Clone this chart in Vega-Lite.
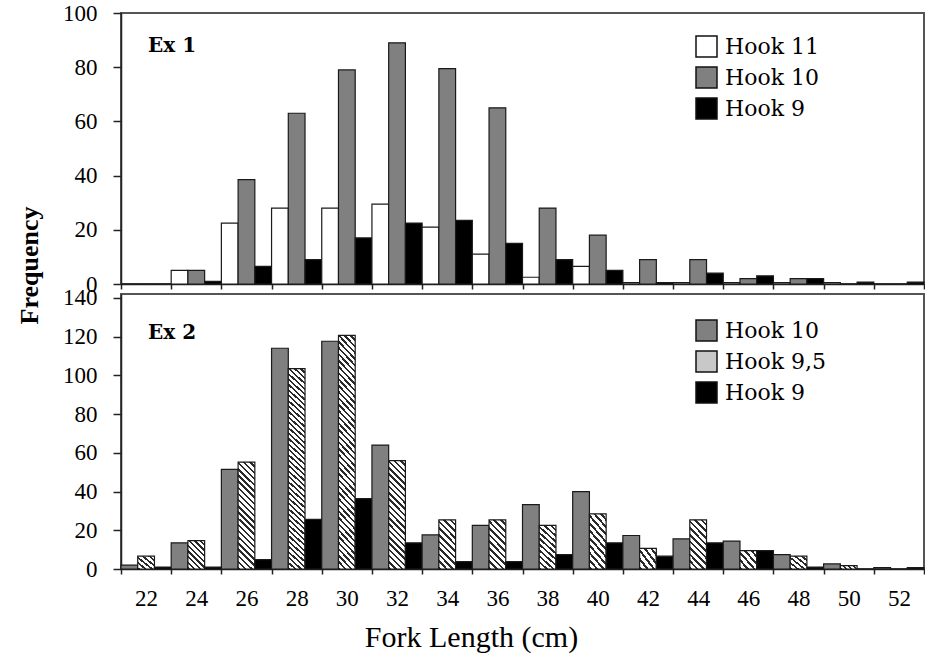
{
 "$schema": "https://vega.github.io/schema/vega-lite/v6.json",
 "padding": {"left": 15, "top": 1, "right": 5, "bottom": 5},
 "bounds": "flush",
 "spacing": 10,
 "datasets": {
  "ex1": [
   {"len":"22","hook":"Hook 11","freq":0},{"len":"22","hook":"Hook 10","freq":0},{"len":"22","hook":"Hook 9","freq":0},
   {"len":"24","hook":"Hook 11","freq":5},{"len":"24","hook":"Hook 10","freq":5},{"len":"24","hook":"Hook 9","freq":1},
   {"len":"26","hook":"Hook 11","freq":22.5},{"len":"26","hook":"Hook 10","freq":38.5},{"len":"26","hook":"Hook 9","freq":6.5},
   {"len":"28","hook":"Hook 11","freq":28},{"len":"28","hook":"Hook 10","freq":63},{"len":"28","hook":"Hook 9","freq":9},
   {"len":"30","hook":"Hook 11","freq":28},{"len":"30","hook":"Hook 10","freq":79},{"len":"30","hook":"Hook 9","freq":17},
   {"len":"32","hook":"Hook 11","freq":29.5},{"len":"32","hook":"Hook 10","freq":89},{"len":"32","hook":"Hook 9","freq":22.5},
   {"len":"34","hook":"Hook 11","freq":21},{"len":"34","hook":"Hook 10","freq":79.5},{"len":"34","hook":"Hook 9","freq":23.5},
   {"len":"36","hook":"Hook 11","freq":11},{"len":"36","hook":"Hook 10","freq":65},{"len":"36","hook":"Hook 9","freq":15},
   {"len":"38","hook":"Hook 11","freq":2.5},{"len":"38","hook":"Hook 10","freq":28},{"len":"38","hook":"Hook 9","freq":9},
   {"len":"40","hook":"Hook 11","freq":6.5},{"len":"40","hook":"Hook 10","freq":18},{"len":"40","hook":"Hook 9","freq":5},
   {"len":"42","hook":"Hook 11","freq":0.5},{"len":"42","hook":"Hook 10","freq":9},{"len":"42","hook":"Hook 9","freq":0.5},
   {"len":"44","hook":"Hook 11","freq":0.5},{"len":"44","hook":"Hook 10","freq":9},{"len":"44","hook":"Hook 9","freq":4},
   {"len":"46","hook":"Hook 11","freq":0.5},{"len":"46","hook":"Hook 10","freq":2},{"len":"46","hook":"Hook 9","freq":3},
   {"len":"48","hook":"Hook 11","freq":0.5},{"len":"48","hook":"Hook 10","freq":2},{"len":"48","hook":"Hook 9","freq":2},
   {"len":"50","hook":"Hook 11","freq":0.5},{"len":"50","hook":"Hook 10","freq":0},{"len":"50","hook":"Hook 9","freq":0.7},
   {"len":"52","hook":"Hook 11","freq":0},{"len":"52","hook":"Hook 10","freq":0},{"len":"52","hook":"Hook 9","freq":0.7}
  ],
  "ex2": [
   {"len":"22","hook":"Hook 10","freq":2},{"len":"22","hook":"Hook 9,5","freq":6.6},{"len":"22","hook":"Hook 9","freq":1},
   {"len":"24","hook":"Hook 10","freq":13.5},{"len":"24","hook":"Hook 9,5","freq":14.7},{"len":"24","hook":"Hook 9","freq":1},
   {"len":"26","hook":"Hook 10","freq":51.4},{"len":"26","hook":"Hook 9,5","freq":55.2},{"len":"26","hook":"Hook 9","freq":4.8},
   {"len":"28","hook":"Hook 10","freq":114},{"len":"28","hook":"Hook 9,5","freq":103.5},{"len":"28","hook":"Hook 9","freq":25.6},
   {"len":"30","hook":"Hook 10","freq":117.6},{"len":"30","hook":"Hook 9,5","freq":120.6},{"len":"30","hook":"Hook 9","freq":36.3},
   {"len":"32","hook":"Hook 10","freq":64},{"len":"32","hook":"Hook 9,5","freq":56},{"len":"32","hook":"Hook 9","freq":13.5},
   {"len":"34","hook":"Hook 10","freq":17.6},{"len":"34","hook":"Hook 9,5","freq":25.4},{"len":"34","hook":"Hook 9","freq":3.8},
   {"len":"36","hook":"Hook 10","freq":22.5},{"len":"36","hook":"Hook 9,5","freq":25.4},{"len":"36","hook":"Hook 9","freq":3.8},
   {"len":"38","hook":"Hook 10","freq":33.2},{"len":"38","hook":"Hook 9,5","freq":22.5},{"len":"38","hook":"Hook 9","freq":7.4},
   {"len":"40","hook":"Hook 10","freq":40},{"len":"40","hook":"Hook 9,5","freq":28.5},{"len":"40","hook":"Hook 9","freq":13.5},
   {"len":"42","hook":"Hook 10","freq":17.3},{"len":"42","hook":"Hook 9,5","freq":10.7},{"len":"42","hook":"Hook 9","freq":6.6},
   {"len":"44","hook":"Hook 10","freq":15.6},{"len":"44","hook":"Hook 9,5","freq":25.4},{"len":"44","hook":"Hook 9","freq":13.5},
   {"len":"46","hook":"Hook 10","freq":14.4},{"len":"46","hook":"Hook 9,5","freq":9.5},{"len":"46","hook":"Hook 9","freq":9.5},
   {"len":"48","hook":"Hook 10","freq":7.4},{"len":"48","hook":"Hook 9,5","freq":6.6},{"len":"48","hook":"Hook 9","freq":1},
   {"len":"50","hook":"Hook 10","freq":2.6},{"len":"50","hook":"Hook 9,5","freq":1.7},{"len":"50","hook":"Hook 9","freq":0},
   {"len":"52","hook":"Hook 10","freq":0.7},{"len":"52","hook":"Hook 9,5","freq":0},{"len":"52","hook":"Hook 9","freq":0.7}
  ]
 },
 "vconcat": [
  {
   "width": 803, "height": 271,
   "data": {"name": "ex1"},
   "title": {"text": "Ex 1", "anchor": "start", "frame": "group", "orient": "top", "offset": -32, "dx": 27, "dy": 32, "baseline": "middle", "font": "DejaVu Serif", "fontSize": 20, "fontWeight": "bold", "color": "#000"},
   "mark": {"type": "bar", "stroke": "#1a1a1a", "strokeWidth": 1.2},
   "encoding": {
    "x": {"field": "len", "type": "nominal",
          "scale": {"domain": ["22","24","26","28","30","32","34","36","38","40","42","44","46","48","50","52"], "paddingInner": 0, "paddingOuter": 0},
          "axis": {"labels": false, "title": null, "tickBand": "extent", "tickSize": 5}},
    "xOffset": {"field": "hook", "type": "nominal", "sort": ["Hook 11","Hook 10","Hook 9"],
                "scale": {"domain": ["Hook 11","Hook 10","Hook 9"], "paddingInner": 0, "paddingOuter": 0}},
    "y": {"field": "freq", "type": "quantitative", "stack": null,
          "scale": {"domain": [0, 100], "nice": false},
          "axis": {"values": [0,20,40,60,80,100], "labelOverlap": false, "labelPadding": 16, "title": "Frequency", "titleX": -92, "titleY": 252, "titleAngle": 270, "titleBaseline": "middle", "titleAlign": "center", "titleFontSize": 26, "titleFontWeight": "bold"}},
    "fill": {"field": "hook", "type": "nominal",
             "scale": {"domain": ["Hook 11","Hook 10","Hook 9"], "range": ["#ffffff","#808080","#000000"]},
             "legend": {"orient": "none", "legendX": 574, "legendY": 22, "title": null}}
   }
  },
  {
   "width": 803, "height": 275,
   "data": {"name": "ex2"},
   "title": {"text": "Ex 2", "anchor": "start", "frame": "group", "orient": "top", "offset": -36, "dx": 27, "dy": 30, "baseline": "middle", "font": "DejaVu Serif", "fontSize": 20, "fontWeight": "bold", "color": "#000"},
   "mark": {"type": "bar", "stroke": "#1a1a1a", "strokeWidth": 1.2},
   "encoding": {
    "x": {"field": "len", "type": "nominal",
          "scale": {"domain": ["22","24","26","28","30","32","34","36","38","40","42","44","46","48","50","52"], "paddingInner": 0, "paddingOuter": 0},
          "axis": {"title": "Fork Length (cm)", "labelAngle": 0, "labelPadding": 13, "tickBand": "extent", "tickSize": 5, "titleFontSize": 30, "titleFontWeight": "normal", "titleX": 350, "titleY": 68, "titleBaseline": "middle", "titleAlign": "center"}},
    "xOffset": {"field": "hook", "type": "nominal", "sort": ["Hook 10","Hook 9,5","Hook 9"],
                "scale": {"domain": ["Hook 10","Hook 9,5","Hook 9"], "paddingInner": 0, "paddingOuter": 0}},
    "y": {"field": "freq", "type": "quantitative", "stack": null,
          "scale": {"domain": [0, 142], "nice": false},
          "axis": {"values": [0,20,40,60,80,100,120,140], "labelOverlap": false, "labelPadding": 16, "title": null}},
    "fill": {"field": "hook", "type": "nominal",
             "scale": {"domain": ["Hook 10","Hook 9,5","Hook 9"], "range": ["#808080","#c8c8c8","#000000"]},
             "legend": {"orient": "none", "legendX": 574, "legendY": 25, "title": null},
             "condition": [
              {"test": "datum.hook === 'Hook 9,5' && datum.freq >= 80", "value": {"gradient":"linear","x1":0,"y1":1,"x2":0.08255,"y2":-0.0707,"stops":[
                {"offset":0,"color":"#2a2a2a"},{"offset":0.01,"color":"#2a2a2a"},{"offset":0.01,"color":"#fff"},{"offset":0.025,"color":"#fff"},
                {"offset":0.025,"color":"#2a2a2a"},{"offset":0.035,"color":"#2a2a2a"},{"offset":0.035,"color":"#fff"},{"offset":0.05,"color":"#fff"},
                {"offset":0.05,"color":"#2a2a2a"},{"offset":0.06,"color":"#2a2a2a"},{"offset":0.06,"color":"#fff"},{"offset":0.075,"color":"#fff"},
                {"offset":0.075,"color":"#2a2a2a"},{"offset":0.085,"color":"#2a2a2a"},{"offset":0.085,"color":"#fff"},{"offset":0.1,"color":"#fff"},
                {"offset":0.1,"color":"#2a2a2a"},{"offset":0.11,"color":"#2a2a2a"},{"offset":0.11,"color":"#fff"},{"offset":0.125,"color":"#fff"},
                {"offset":0.125,"color":"#2a2a2a"},{"offset":0.135,"color":"#2a2a2a"},{"offset":0.135,"color":"#fff"},{"offset":0.15,"color":"#fff"},
                {"offset":0.15,"color":"#2a2a2a"},{"offset":0.16,"color":"#2a2a2a"},{"offset":0.16,"color":"#fff"},{"offset":0.175,"color":"#fff"},
                {"offset":0.175,"color":"#2a2a2a"},{"offset":0.185,"color":"#2a2a2a"},{"offset":0.185,"color":"#fff"},{"offset":0.2,"color":"#fff"},
                {"offset":0.2,"color":"#2a2a2a"},{"offset":0.21,"color":"#2a2a2a"},{"offset":0.21,"color":"#fff"},{"offset":0.225,"color":"#fff"},
                {"offset":0.225,"color":"#2a2a2a"},{"offset":0.235,"color":"#2a2a2a"},{"offset":0.235,"color":"#fff"},{"offset":0.25,"color":"#fff"},
                {"offset":0.25,"color":"#2a2a2a"},{"offset":0.26,"color":"#2a2a2a"},{"offset":0.26,"color":"#fff"},{"offset":0.275,"color":"#fff"},
                {"offset":0.275,"color":"#2a2a2a"},{"offset":0.285,"color":"#2a2a2a"},{"offset":0.285,"color":"#fff"},{"offset":0.3,"color":"#fff"},
                {"offset":0.3,"color":"#2a2a2a"},{"offset":0.31,"color":"#2a2a2a"},{"offset":0.31,"color":"#fff"},{"offset":0.325,"color":"#fff"},
                {"offset":0.325,"color":"#2a2a2a"},{"offset":0.335,"color":"#2a2a2a"},{"offset":0.335,"color":"#fff"},{"offset":0.35,"color":"#fff"},
                {"offset":0.35,"color":"#2a2a2a"},{"offset":0.36,"color":"#2a2a2a"},{"offset":0.36,"color":"#fff"},{"offset":0.375,"color":"#fff"},
                {"offset":0.375,"color":"#2a2a2a"},{"offset":0.385,"color":"#2a2a2a"},{"offset":0.385,"color":"#fff"},{"offset":0.4,"color":"#fff"},
                {"offset":0.4,"color":"#2a2a2a"},{"offset":0.41,"color":"#2a2a2a"},{"offset":0.41,"color":"#fff"},{"offset":0.425,"color":"#fff"},
                {"offset":0.425,"color":"#2a2a2a"},{"offset":0.435,"color":"#2a2a2a"},{"offset":0.435,"color":"#fff"},{"offset":0.45,"color":"#fff"},
                {"offset":0.45,"color":"#2a2a2a"},{"offset":0.46,"color":"#2a2a2a"},{"offset":0.46,"color":"#fff"},{"offset":0.475,"color":"#fff"},
                {"offset":0.475,"color":"#2a2a2a"},{"offset":0.485,"color":"#2a2a2a"},{"offset":0.485,"color":"#fff"},{"offset":0.5,"color":"#fff"},
                {"offset":0.5,"color":"#2a2a2a"},{"offset":0.51,"color":"#2a2a2a"},{"offset":0.51,"color":"#fff"},{"offset":0.525,"color":"#fff"},
                {"offset":0.525,"color":"#2a2a2a"},{"offset":0.535,"color":"#2a2a2a"},{"offset":0.535,"color":"#fff"},{"offset":0.55,"color":"#fff"},
                {"offset":0.55,"color":"#2a2a2a"},{"offset":0.56,"color":"#2a2a2a"},{"offset":0.56,"color":"#fff"},{"offset":0.575,"color":"#fff"},
                {"offset":0.575,"color":"#2a2a2a"},{"offset":0.585,"color":"#2a2a2a"},{"offset":0.585,"color":"#fff"},{"offset":0.6,"color":"#fff"},
                {"offset":0.6,"color":"#2a2a2a"},{"offset":0.61,"color":"#2a2a2a"},{"offset":0.61,"color":"#fff"},{"offset":0.625,"color":"#fff"},
                {"offset":0.625,"color":"#2a2a2a"},{"offset":0.635,"color":"#2a2a2a"},{"offset":0.635,"color":"#fff"},{"offset":0.65,"color":"#fff"},
                {"offset":0.65,"color":"#2a2a2a"},{"offset":0.66,"color":"#2a2a2a"},{"offset":0.66,"color":"#fff"},{"offset":0.675,"color":"#fff"},
                {"offset":0.675,"color":"#2a2a2a"},{"offset":0.685,"color":"#2a2a2a"},{"offset":0.685,"color":"#fff"},{"offset":0.7,"color":"#fff"},
                {"offset":0.7,"color":"#2a2a2a"},{"offset":0.71,"color":"#2a2a2a"},{"offset":0.71,"color":"#fff"},{"offset":0.725,"color":"#fff"},
                {"offset":0.725,"color":"#2a2a2a"},{"offset":0.735,"color":"#2a2a2a"},{"offset":0.735,"color":"#fff"},{"offset":0.75,"color":"#fff"},
                {"offset":0.75,"color":"#2a2a2a"},{"offset":0.76,"color":"#2a2a2a"},{"offset":0.76,"color":"#fff"},{"offset":0.775,"color":"#fff"},
                {"offset":0.775,"color":"#2a2a2a"},{"offset":0.785,"color":"#2a2a2a"},{"offset":0.785,"color":"#fff"},{"offset":0.8,"color":"#fff"},
                {"offset":0.8,"color":"#2a2a2a"},{"offset":0.81,"color":"#2a2a2a"},{"offset":0.81,"color":"#fff"},{"offset":0.825,"color":"#fff"},
                {"offset":0.825,"color":"#2a2a2a"},{"offset":0.835,"color":"#2a2a2a"},{"offset":0.835,"color":"#fff"},{"offset":0.85,"color":"#fff"},
                {"offset":0.85,"color":"#2a2a2a"},{"offset":0.86,"color":"#2a2a2a"},{"offset":0.86,"color":"#fff"},{"offset":0.875,"color":"#fff"},
                {"offset":0.875,"color":"#2a2a2a"},{"offset":0.885,"color":"#2a2a2a"},{"offset":0.885,"color":"#fff"},{"offset":0.9,"color":"#fff"},
                {"offset":0.9,"color":"#2a2a2a"},{"offset":0.91,"color":"#2a2a2a"},{"offset":0.91,"color":"#fff"},{"offset":0.925,"color":"#fff"},
                {"offset":0.925,"color":"#2a2a2a"},{"offset":0.935,"color":"#2a2a2a"},{"offset":0.935,"color":"#fff"},{"offset":0.95,"color":"#fff"},
                {"offset":0.95,"color":"#2a2a2a"},{"offset":0.96,"color":"#2a2a2a"},{"offset":0.96,"color":"#fff"},{"offset":0.975,"color":"#fff"},
                {"offset":0.975,"color":"#2a2a2a"},{"offset":0.985,"color":"#2a2a2a"},{"offset":0.985,"color":"#fff"},{"offset":1,"color":"#fff"}]}},
              {"test": "datum.hook === 'Hook 9,5' && datum.freq >= 40", "value": {"gradient":"linear","x1":0,"y1":1,"x2":0.1756,"y2":-0.1283,"stops":[
                {"offset":0,"color":"#2a2a2a"},{"offset":0.02,"color":"#2a2a2a"},{"offset":0.02,"color":"#fff"},{"offset":0.05,"color":"#fff"},
                {"offset":0.05,"color":"#2a2a2a"},{"offset":0.07,"color":"#2a2a2a"},{"offset":0.07,"color":"#fff"},{"offset":0.1,"color":"#fff"},
                {"offset":0.1,"color":"#2a2a2a"},{"offset":0.12,"color":"#2a2a2a"},{"offset":0.12,"color":"#fff"},{"offset":0.15,"color":"#fff"},
                {"offset":0.15,"color":"#2a2a2a"},{"offset":0.17,"color":"#2a2a2a"},{"offset":0.17,"color":"#fff"},{"offset":0.2,"color":"#fff"},
                {"offset":0.2,"color":"#2a2a2a"},{"offset":0.22,"color":"#2a2a2a"},{"offset":0.22,"color":"#fff"},{"offset":0.25,"color":"#fff"},
                {"offset":0.25,"color":"#2a2a2a"},{"offset":0.27,"color":"#2a2a2a"},{"offset":0.27,"color":"#fff"},{"offset":0.3,"color":"#fff"},
                {"offset":0.3,"color":"#2a2a2a"},{"offset":0.32,"color":"#2a2a2a"},{"offset":0.32,"color":"#fff"},{"offset":0.35,"color":"#fff"},
                {"offset":0.35,"color":"#2a2a2a"},{"offset":0.37,"color":"#2a2a2a"},{"offset":0.37,"color":"#fff"},{"offset":0.4,"color":"#fff"},
                {"offset":0.4,"color":"#2a2a2a"},{"offset":0.42,"color":"#2a2a2a"},{"offset":0.42,"color":"#fff"},{"offset":0.45,"color":"#fff"},
                {"offset":0.45,"color":"#2a2a2a"},{"offset":0.47,"color":"#2a2a2a"},{"offset":0.47,"color":"#fff"},{"offset":0.5,"color":"#fff"},
                {"offset":0.5,"color":"#2a2a2a"},{"offset":0.52,"color":"#2a2a2a"},{"offset":0.52,"color":"#fff"},{"offset":0.55,"color":"#fff"},
                {"offset":0.55,"color":"#2a2a2a"},{"offset":0.57,"color":"#2a2a2a"},{"offset":0.57,"color":"#fff"},{"offset":0.6,"color":"#fff"},
                {"offset":0.6,"color":"#2a2a2a"},{"offset":0.62,"color":"#2a2a2a"},{"offset":0.62,"color":"#fff"},{"offset":0.65,"color":"#fff"},
                {"offset":0.65,"color":"#2a2a2a"},{"offset":0.67,"color":"#2a2a2a"},{"offset":0.67,"color":"#fff"},{"offset":0.7,"color":"#fff"},
                {"offset":0.7,"color":"#2a2a2a"},{"offset":0.72,"color":"#2a2a2a"},{"offset":0.72,"color":"#fff"},{"offset":0.75,"color":"#fff"},
                {"offset":0.75,"color":"#2a2a2a"},{"offset":0.77,"color":"#2a2a2a"},{"offset":0.77,"color":"#fff"},{"offset":0.8,"color":"#fff"},
                {"offset":0.8,"color":"#2a2a2a"},{"offset":0.82,"color":"#2a2a2a"},{"offset":0.82,"color":"#fff"},{"offset":0.85,"color":"#fff"},
                {"offset":0.85,"color":"#2a2a2a"},{"offset":0.87,"color":"#2a2a2a"},{"offset":0.87,"color":"#fff"},{"offset":0.9,"color":"#fff"},
                {"offset":0.9,"color":"#2a2a2a"},{"offset":0.92,"color":"#2a2a2a"},{"offset":0.92,"color":"#fff"},{"offset":0.95,"color":"#fff"},
                {"offset":0.95,"color":"#2a2a2a"},{"offset":0.97,"color":"#2a2a2a"},{"offset":0.97,"color":"#fff"},{"offset":1,"color":"#fff"}]}},
              {"test": "datum.hook === 'Hook 9,5' && datum.freq >= 20", "value": {"gradient":"linear","x1":0,"y1":1,"x2":0.4164,"y2":-0.2021,"stops":[
                {"offset":0,"color":"#2a2a2a"},{"offset":0.04,"color":"#2a2a2a"},{"offset":0.04,"color":"#fff"},{"offset":0.1,"color":"#fff"},
                {"offset":0.1,"color":"#2a2a2a"},{"offset":0.14,"color":"#2a2a2a"},{"offset":0.14,"color":"#fff"},{"offset":0.2,"color":"#fff"},
                {"offset":0.2,"color":"#2a2a2a"},{"offset":0.24,"color":"#2a2a2a"},{"offset":0.24,"color":"#fff"},{"offset":0.3,"color":"#fff"},
                {"offset":0.3,"color":"#2a2a2a"},{"offset":0.34,"color":"#2a2a2a"},{"offset":0.34,"color":"#fff"},{"offset":0.4,"color":"#fff"},
                {"offset":0.4,"color":"#2a2a2a"},{"offset":0.44,"color":"#2a2a2a"},{"offset":0.44,"color":"#fff"},{"offset":0.5,"color":"#fff"},
                {"offset":0.5,"color":"#2a2a2a"},{"offset":0.54,"color":"#2a2a2a"},{"offset":0.54,"color":"#fff"},{"offset":0.6,"color":"#fff"},
                {"offset":0.6,"color":"#2a2a2a"},{"offset":0.64,"color":"#2a2a2a"},{"offset":0.64,"color":"#fff"},{"offset":0.7,"color":"#fff"},
                {"offset":0.7,"color":"#2a2a2a"},{"offset":0.74,"color":"#2a2a2a"},{"offset":0.74,"color":"#fff"},{"offset":0.8,"color":"#fff"},
                {"offset":0.8,"color":"#2a2a2a"},{"offset":0.84,"color":"#2a2a2a"},{"offset":0.84,"color":"#fff"},{"offset":0.9,"color":"#fff"},
                {"offset":0.9,"color":"#2a2a2a"},{"offset":0.94,"color":"#2a2a2a"},{"offset":0.94,"color":"#fff"},{"offset":1,"color":"#fff"}]}},
              {"test": "datum.hook === 'Hook 9,5' && datum.freq >= 12", "value": {"gradient":"linear","x1":0,"y1":1,"x2":0.6949,"y2":-0.1797,"stops":[
                {"offset":0,"color":"#2a2a2a"},{"offset":0.05,"color":"#2a2a2a"},{"offset":0.05,"color":"#fff"},{"offset":0.125,"color":"#fff"},
                {"offset":0.125,"color":"#2a2a2a"},{"offset":0.175,"color":"#2a2a2a"},{"offset":0.175,"color":"#fff"},{"offset":0.25,"color":"#fff"},
                {"offset":0.25,"color":"#2a2a2a"},{"offset":0.3,"color":"#2a2a2a"},{"offset":0.3,"color":"#fff"},{"offset":0.375,"color":"#fff"},
                {"offset":0.375,"color":"#2a2a2a"},{"offset":0.425,"color":"#2a2a2a"},{"offset":0.425,"color":"#fff"},{"offset":0.5,"color":"#fff"},
                {"offset":0.5,"color":"#2a2a2a"},{"offset":0.55,"color":"#2a2a2a"},{"offset":0.55,"color":"#fff"},{"offset":0.625,"color":"#fff"},
                {"offset":0.625,"color":"#2a2a2a"},{"offset":0.675,"color":"#2a2a2a"},{"offset":0.675,"color":"#fff"},{"offset":0.75,"color":"#fff"},
                {"offset":0.75,"color":"#2a2a2a"},{"offset":0.8,"color":"#2a2a2a"},{"offset":0.8,"color":"#fff"},{"offset":0.875,"color":"#fff"},
                {"offset":0.875,"color":"#2a2a2a"},{"offset":0.925,"color":"#2a2a2a"},{"offset":0.925,"color":"#fff"},{"offset":1,"color":"#fff"}]}},
              {"test": "datum.hook === 'Hook 9,5' && datum.freq >= 4", "value": {"gradient":"linear","x1":0,"y1":1,"x2":1.0218,"y2":0.0228,"stops":[
                {"offset":0,"color":"#2a2a2a"},{"offset":0.08,"color":"#2a2a2a"},{"offset":0.08,"color":"#fff"},{"offset":0.2,"color":"#fff"},
                {"offset":0.2,"color":"#2a2a2a"},{"offset":0.28,"color":"#2a2a2a"},{"offset":0.28,"color":"#fff"},{"offset":0.4,"color":"#fff"},
                {"offset":0.4,"color":"#2a2a2a"},{"offset":0.48,"color":"#2a2a2a"},{"offset":0.48,"color":"#fff"},{"offset":0.6,"color":"#fff"},
                {"offset":0.6,"color":"#2a2a2a"},{"offset":0.68,"color":"#2a2a2a"},{"offset":0.68,"color":"#fff"},{"offset":0.8,"color":"#fff"},
                {"offset":0.8,"color":"#2a2a2a"},{"offset":0.88,"color":"#2a2a2a"},{"offset":0.88,"color":"#fff"},{"offset":1,"color":"#fff"}]}},
              {"test": "datum.hook === 'Hook 9,5'", "value": {"gradient":"linear","x1":0,"y1":1,"x2":1.152,"y2":0.7727,"stops":[
                {"offset":0,"color":"#2a2a2a"},{"offset":0.1,"color":"#2a2a2a"},{"offset":0.1,"color":"#fff"},{"offset":0.25,"color":"#fff"},
                {"offset":0.25,"color":"#2a2a2a"},{"offset":0.35,"color":"#2a2a2a"},{"offset":0.35,"color":"#fff"},{"offset":0.5,"color":"#fff"},
                {"offset":0.5,"color":"#2a2a2a"},{"offset":0.6,"color":"#2a2a2a"},{"offset":0.6,"color":"#fff"},{"offset":0.75,"color":"#fff"},
                {"offset":0.75,"color":"#2a2a2a"},{"offset":0.85,"color":"#2a2a2a"},{"offset":0.85,"color":"#fff"},{"offset":1,"color":"#fff"}]}}
             ]}
   }
  }
 ],
 "resolve": {"scale": {"y": "independent", "fill": "independent", "xOffset": "independent"}, "legend": {"fill": "independent"}},
 "config": {
  "font": "Liberation Serif",
  "view": {"stroke": "#555555", "strokeWidth": 2},
  "axis": {"labelFont": "Liberation Serif", "labelColor": "#000", "titleFont": "Liberation Serif", "titleColor": "#000",
           "domainColor": "#222", "domainWidth": 1.5, "tickColor": "#222", "tickWidth": 1.5, "grid": false,
           "labelFlush": false, "labelOverlap": false, "labelFontSize": 23},
  "axisY": {"tickSize": 8},
  "legend": {"labelFont": "DejaVu Serif", "labelFontSize": 22, "labelColor": "#000", "symbolType": "square", "symbolSize": 441,
             "symbolStrokeColor": "#111", "symbolStrokeWidth": 1.5, "rowPadding": 4, "labelOffset": 7, "padding": 0}
 }
}
